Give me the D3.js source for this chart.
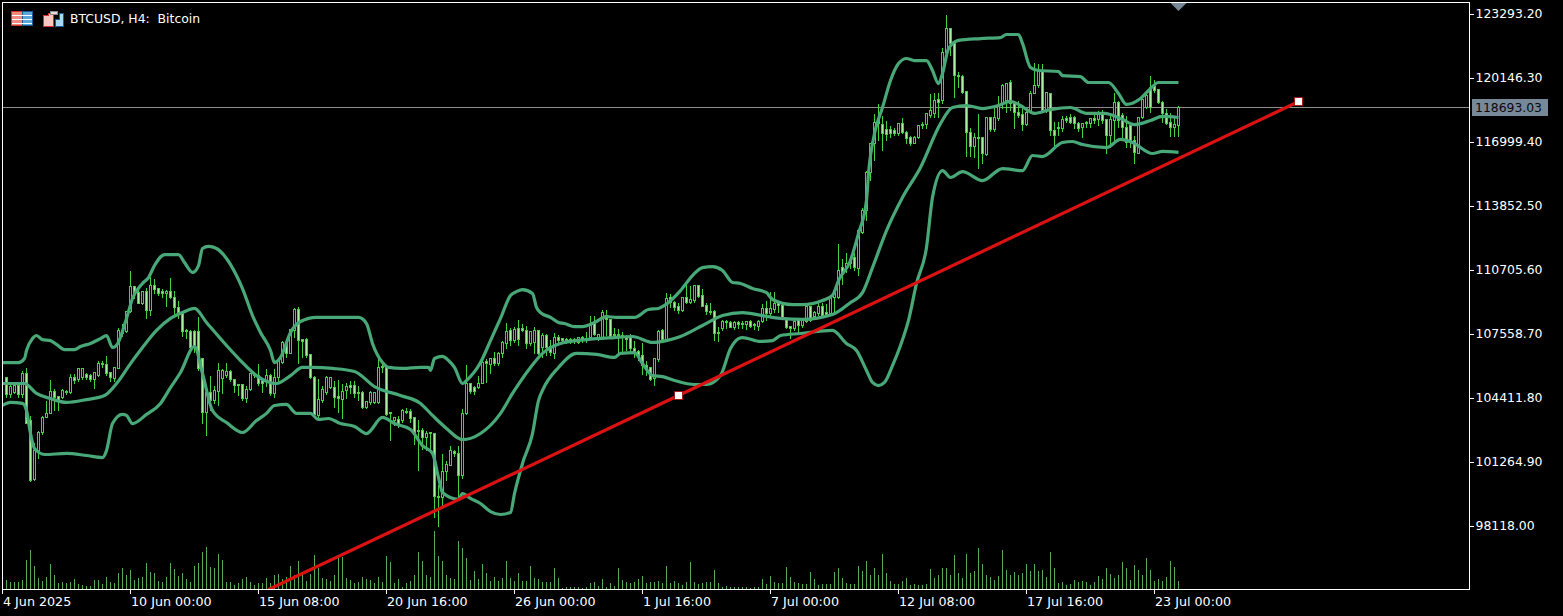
<!DOCTYPE html>
<html><head><meta charset="utf-8">
<script src="https://cdn.jsdelivr.net/npm/d3@7/dist/d3.min.js"></script>
<style>
html,body{margin:0;padding:0;background:#000;overflow:hidden}
svg{display:block}
text{font-family:"DejaVu Sans",sans-serif;font-size:12.4px;fill:#fff}
</style></head><body><svg id="c" width="1563" height="616"></svg>
<script>
const title = "BTCUSD, H4:  Bitcoin";
const priceTicks = [123293.20,120146.30,116999.40,113852.50,110705.60,107558.70,104411.80,101264.90,98118.00];
const timeTickBars = [-1,31,63,95,127,159,191,223,255,287];
const timeTickLabels = ["4 Jun 2025","10 Jun 00:00","15 Jun 08:00","20 Jun 16:00","26 Jun 00:00","1 Jul 16:00","7 Jul 00:00","12 Jul 08:00","17 Jul 16:00","23 Jul 00:00"];
const lastPrice = 118693.03;
const open = [
105400,104560,104660,105000,104560,105590,103280,100380,101800,102690,
103430,103630,104710,104460,104410,104710,104660,105400,105300,105400,
105540,105490,105300,105490,106080,106030,105640,105350,105840,107710,
107660,108640,109870,109570,109030,109620,108690,109920,109770,109620,
109530,109620,109330,108840,108590,107710,107660,107660,107660,106330,
103670,104660,104260,104710,105350,105490,105690,105300,105050,105050,
104360,104800,105540,105490,105250,105200,105490,104610,105400,106130,
107120,106580,107710,108740,107260,107260,106530,105400,103530,104260,
104660,104900,104900,104460,104310,104760,105000,105000,104660,104660,
103920,104170,104170,104170,105940,105890,103670,103280,103330,103280,
103720,103720,103430,102790,102790,102450,102690,102640,99540,99500,
100770,101070,101760,101660,100580,103630,105100,104900,104900,105100,
106180,106030,106330,106080,106580,107070,107710,107210,107800,107800,
107710,107070,107120,107710,106870,107460,106920,106580,107360,107310,
107260,107260,107260,107120,107360,107310,107360,108100,107360,107360,
108440,108250,107510,107510,107460,107360,107360,106820,106670,106480,
105980,105890,105350,106280,107710,107260,109330,109080,108890,108690,
109330,109080,109180,109920,109430,108940,108640,108640,107610,107800,
108150,108100,107850,108100,108050,108000,108150,108000,107900,108150,
108790,108540,108740,109030,108940,108250,107900,107800,108250,107950,
108150,108890,108390,108540,108890,108590,108540,109330,109330,110800,
110800,111200,111300,110760,112520,113610,115470,116900,117880,117830,
117590,117590,117540,117390,117880,117440,117200,116900,117200,117830,
117830,118280,118380,119060,119020,121370,122560,121820,120240,120200,
119460,117440,116750,117200,117200,116360,118180,117590,118130,118870,
119020,119900,118870,118430,118330,117830,118430,119360,119750,120490,
118520,119360,117540,117640,117640,118130,118180,118180,117880,117690,
117930,117880,118130,118080,118380,118080,117290,118030,118920,118280,
117690,117790,117050,116410,118180,118670,119650,119700,119560,118920,
118380,117930,117690,117790];
const high = [
105440,105050,105150,105150,105740,105890,103530,102200,102790,103530,
104260,105300,104850,104460,104850,104800,105590,105590,105840,105890,
105640,105590,105640,106230,106230,106480,105640,105890,107850,108050,
108690,110660,109920,109820,109670,109820,110360,110260,109820,109770,
109720,110310,109670,109180,108690,107800,107750,107750,108390,106380,
104760,105490,105000,106130,105840,106130,105790,105350,105050,105100,
105000,105640,105640,106080,105300,105840,105590,105840,106330,107210,
107260,107800,108840,108890,107310,107360,106580,105490,105350,105000,
105490,105440,105250,105300,105100,105150,105250,105250,105000,104760,
104220,104760,104710,106480,106130,105980,103670,103480,103530,103870,
103920,103870,103480,103330,102940,102790,102740,102690,100130,101660,
101310,102050,101850,102050,103870,106030,105150,105000,105490,106330,
106330,106380,106670,106670,107210,108100,107850,107900,108250,108050,
107950,107710,107900,107750,107610,107560,107260,107610,107510,107360,
107360,107360,107360,107410,107460,107660,108440,108440,107560,108740,
108740,108300,107850,107800,107660,107510,107560,107210,106770,107120,
106230,105890,106380,107750,107800,109570,109520,109180,109080,109330,
110160,109920,109970,109970,109770,109080,109080,108740,107900,108250,
108250,108200,108200,108200,108200,108200,108250,108100,108250,109030,
109180,109620,109620,109180,108980,108300,107950,108250,108300,108300,
108940,108940,108690,109080,109080,109030,109430,109770,111980,111250,
111540,111390,111540,112620,113750,115570,116900,118380,118870,118280,
118030,117790,117690,117930,118180,117540,117290,117290,117830,117980,
118380,119360,119410,119410,121620,123240,122600,121870,120440,120290,
119510,117690,117440,118380,117200,118180,118180,118670,119260,119850,
119900,120050,119020,119020,118670,118670,119510,120880,120830,120830,
119460,119410,117980,117980,118280,118280,118380,118280,117980,117930,
118030,118180,118380,118520,118570,118130,118280,119410,119020,118430,
118280,117790,117290,118230,119110,119510,120240,120050,119600,119020,
118620,118430,118180,118770];
const low = [
104410,104410,104610,104410,104410,103130,100280,100330,101410,102590,
103430,103630,103770,103770,104360,104560,104610,105100,105200,105300,
105300,105200,104850,105440,105890,105490,105200,105200,105840,107410,
107610,108590,109280,109030,108980,108300,108440,109520,109430,109330,
108890,109280,108340,108300,107410,107310,106720,106620,105740,103130,
102540,103770,104120,104020,104610,105400,105200,104660,104510,104260,
104170,104760,105400,105000,104660,104950,104510,104410,105150,106080,
106380,106580,107360,106080,106380,106380,105350,103480,103430,104170,
104560,104850,103920,103670,103380,104360,104610,104410,104260,103870,
103870,104070,104120,104120,105640,103530,102300,103030,102940,103180,
103630,103180,102100,100820,101850,101800,101800,98510,98070,99000,
100330,101070,101510,99490,100430,103580,104610,104560,104850,105100,
105150,105590,105980,105980,106380,106820,106970,107120,106970,107660,
106820,106970,106580,106530,106380,106480,106480,106330,107070,107070,
107070,107070,107070,107070,107120,107120,107310,107460,107210,107310,
107460,107360,107310,106580,106620,106720,106620,106380,106230,105540,
105490,105250,105000,106180,107210,107210,108840,108690,108540,108640,
109030,109030,109080,109330,108890,108490,108490,107210,107170,107710,
107800,107850,107750,107800,107800,107750,107850,107750,107710,108100,
108200,108440,108590,108590,108250,107800,107310,107710,107510,107850,
108100,108150,108250,108440,108340,108440,108490,108540,109280,109970,
110560,110750,110660,110410,112480,113120,115080,116060,117050,116560,
117050,117200,117290,117290,117390,116900,116800,116900,117150,117640,
117640,118180,118180,118180,118870,121080,121230,119160,119650,119360,
116260,116260,116210,115670,115920,116310,117490,117490,118030,118620,
118430,118520,117640,118180,117540,117790,118380,119360,119650,118430,
118430,117290,116800,117290,117490,117930,117880,117640,117490,117200,
117690,117690,117880,117790,117880,116410,116700,117050,117690,117150,
116700,116700,115920,116410,118130,118620,118430,119410,118870,117930,
117830,117240,117240,117240];
const close = [
104560,104950,105000,104560,105590,103130,100330,101800,102690,103430,
103630,104710,104410,104260,104760,104660,105400,105250,105840,105840,
105400,105300,105640,106080,106030,105590,105400,105890,107710,107560,
108640,109870,109480,109030,109620,108690,109920,109720,109530,109530,
109620,109330,108840,108590,107660,107660,106870,106870,105840,103670,
104660,104260,104760,105740,105740,105690,105300,105000,105000,104360,
104800,105590,105490,105100,105100,105490,104610,105400,106230,107120,
106580,107750,108740,107210,107170,106480,105400,103580,104310,104800,
105400,105400,104410,104360,104710,104950,104900,104610,104610,103920,
104220,104660,104660,105890,105890,103580,103630,103430,103080,103770,
103670,103380,102690,102740,102450,102640,102640,99540,99500,100770,
101120,101800,101660,100580,103630,105100,104710,104710,105100,106130,
106080,106330,106080,106580,107120,107660,107210,107750,107260,107710,
107070,107660,107710,106580,107460,106870,106620,107360,107210,107210,
107210,107170,107210,107360,107260,107210,107950,107510,107510,108590,
108250,107410,107460,107460,107360,107260,106820,106620,106480,105980,
105840,105300,106330,107660,107260,109280,109080,108840,108690,109330,
109080,109230,109920,109380,108890,108640,108590,107560,107560,108150,
108100,107850,108100,108000,108000,108150,107900,107950,108150,108790,
108540,108790,109030,108940,108340,107850,107800,108150,107950,108200,
108890,108200,108590,108890,108440,108490,109380,109670,110660,110560,
111000,111000,110800,112620,113610,115470,116900,117930,118130,117390,
117340,117390,117390,117880,117440,117150,116900,117200,117790,117790,
118380,118520,119020,118920,121370,122560,121820,120240,120200,119410,
117440,116750,117200,117150,116410,118180,117590,118180,118770,119750,
119850,118870,118430,118280,117830,118430,119360,119750,120490,118520,
119410,117540,117290,117690,118080,118030,117930,117880,117640,117880,
117880,118130,118030,118430,118030,117290,118080,118920,118030,117690,
116950,117050,116460,118180,119060,119260,118670,119510,118920,118380,
117880,117690,117830,118693.03];
const volume = [
9,7,7,7,9,29,39,23,11,8,12,25,14,6,7,6,7,10,5,4,3,3,9,9,5,12,7,6,16,21,
14,19,9,11,12,26,17,16,8,7,12,26,20,13,16,10,7,23,26,37,42,22,21,35,29,7,7,4,6,10,
12,7,4,6,6,11,6,14,15,10,12,23,14,28,16,8,15,34,21,11,10,8,14,31,32,11,9,6,7,12,
10,9,6,12,7,33,27,6,10,
2,6,8,14,37,28,14,12,58,33,28,14,11,10,48,41,31,9,18,10,25,16,8,12,8,11,28,11,8,16,
8,8,23,11,10,7,7,7,21,11,1,2,2,2,2,1,2,6,7,3,10,2,6,3,21,9,7,6,7,10,
13,6,7,7,8,6,23,6,8,6,4,7,27,7,5,6,7,7,19,6,2,3,2,2,2,2,2,1,2,2,
10,5,13,7,6,6,22,12,7,6,
5,5,17,10,4,5,5,5,17,21,11,6,5,5,23,18,28,14,21,14,35,16,8,5,5,8,11,4,5,4,
4,5,20,11,14,21,21,14,34,16,11,35,16,18,41,25,14,12,9,13,39,19,14,17,14,16,25,18,25,18,
19,12,37,21,6,7,4,5,9,7,8,7,4,7,13,10,21,15,11,14,27,21,9,24,19,14,31,19,8,10,
8,12,28,22,8];
const upperBars = [
-1,3,4.5,5,6.5,7.5,9,11,12.5,14.5,17,18.5,21,23.5,25,26.5,27.5,30,31.5,34,
35.5,37,39.5,43,44.5,46.5,48,49,50.5,52.5,55,57.5,59,61.5,63.5,66,67,68.5,71,73.5,
77.5,88,90,91.5,94,95.5,99,103.5,105.5,106,107,109,110.5,112,114,115,118.5,121,123.5,126,
127.5,129,131.5,132.5,133.5,136,138,139.5,142,144,147,150,152.5,157,160.5,163,164.5,168.5,171.5,174,
176.5,179,181.5,183.5,186.5,190,191.5,196.5,199,204,206.5,208,211,213,215,215.5,217,219,221,223,
225,227,230,231.5,233,234,235.5,238,243.5,248.5,250,253,254,256,258,263,264,268.5,270.5,275.5,
278,280,283.5,286,288,293];
const upperBand = [
106130,106130,106330,106720,107310,107460,107260,107210,107020,106770,106770,106920,107070,107310,107460,106870,106970,108300,109280,110020,
110310,110900,111440,111440,111050,110560,110900,111740,111840,111740,111250,110410,109770,108440,107610,106720,106130,106380,107610,108150,
108350,108350,108050,107070,106130,105890,105840,105890,105890,105740,106330,106430,106230,105890,105100,105250,106130,107210,108300,109430,
109620,109720,109530,108840,108590,108350,108100,108050,107900,107900,108100,108390,108350,108350,108740,108790,108940,109670,110410,110800,
110850,110660,110070,110020,109770,109570,109230,108980,108980,109180,109430,110160,111150,112480,114100,115430,117390,118670,120000,120830,
121080,120980,120980,120490,119850,120340,121570,121970,122060,122110,122260,122260,121820,120640,120490,120440,120240,120190,119900,119900,
119360,118820,119110,119600,119900,119900];
const middleBars = [
-1,4.5,7.5,11,15,20,24.5,27.5,31,34,37.5,41,44,47,50,55,58.5,62.5,67.5,71,
74,76.5,81.5,87,92,98.5,103.5,106.5,110,114,118.5,123.5,126.5,131,134,138.5,145,152,156.5,161.5,
165,168.5,174,179,184,189,193.5,199,206.5,211,214,216.5,220,224,228.5,233.5,236.5,240,244,248,
251,253.5,257,261,266,270,274.5,278.5,282,286,289,293];
const middleBand = [
105100,105100,104610,104360,104170,104310,104510,105100,106080,106870,107710,108300,108590,108790,108100,106970,106230,105490,105100,105490,
105890,105890,105840,105690,104950,104510,104120,103530,102890,102340,102640,103630,104610,105890,106580,107070,107260,107360,107410,107120,
107210,107410,107950,108440,108590,108440,108300,108250,108490,109080,109570,110800,112620,114250,115720,117880,118670,118770,118620,118770,
118970,118770,118380,118570,118670,118380,118380,118130,117830,118030,118230,118180];
const lowerBars = [
-1,1,4,5,6,7,9.5,15,20,24,25,26.5,29,30,31.5,35,38.5,41,43.5,47,
49,51.5,55,59,62.5,65,67,70,72.5,76,78,80.5,83.5,87,90,94,97,101,104,106.5,
108,109,113,114,116,118.5,121,123.5,126,127,129,131.5,133,134,138,142.5,147.5,152,153.5,157,
159,161.5,164,167,172,175,178.5,181,183,184,188.5,191.5,193.5,198.5,206.5,210,212.5,215,216.5,218,
219.5,221.5,223.5,225.5,227.5,230,231.5,234,236,239,244,249,254,256.5,259,264,266.5,269,275,278.5,
281.5,286.5,289,293];
const lowerBand = [
104020,104170,104120,103770,102640,101900,101610,101660,101560,101460,101800,103130,103580,103530,103130,103580,104120,104900,105640,106920,
105590,103770,103180,102690,103280,103630,104020,104070,103630,103630,103330,103380,103130,102990,102640,103430,103130,102840,102050,101660,
100480,99740,99400,99690,99450,99200,98800,98660,98760,99690,101170,102640,104260,104760,105890,106580,106530,106380,106580,106620,
106080,105490,105440,105250,105050,105050,105490,106820,107310,107360,107170,107210,107460,107560,107710,107070,106720,105740,105150,105000,
105150,105980,106970,108200,110020,111790,114250,115570,115230,115520,115080,115670,115570,116310,116260,116950,117000,116850,116700,117100,
116950,116410,116510,116460];
const trendBars = [65.4,168,323];
const trendPrices = [94960,104510,118960];
const anchorIndex = [1,2];

const W=1563,H=616,L=2.5,T=2.5,R=1469.5,B=589.5;
const svg=d3.select("#c");
svg.append("rect").attr("width",W).attr("height",H).attr("fill","#000");
const x=d3.scaleLinear().domain([0,293]).range([6.5,1178.5]);
const y=d3.scaleLinear().domain([98118,123293.2]).range([525.5,13.5]);
const v=d3.scaleLinear().domain([0,58]).range([589,531]);
svg.append("clipPath").attr("id","plot").append("rect").attr("x",L).attr("y",T).attr("width",R-L).attr("height",B-T);
const plot=svg.append("g").attr("clip-path","url(#plot)");
const bars=d3.range(open.length);
const snap=px=>Math.round(px-0.5)+0.5;

// current price line
plot.append("line").attr("x1",L).attr("x2",R).attr("y1",snap(y(lastPrice))).attr("y2",snap(y(lastPrice)))
  .attr("stroke","#8a8f8a").attr("shape-rendering","crispEdges");

// volume
plot.append("g").selectAll("line").data(bars).join("line")
  .attr("x1",i=>snap(x(i))).attr("x2",i=>snap(x(i))).attr("y1",v(0)).attr("y2",i=>v(volume[i]))
  .attr("stroke","#58a858").attr("shape-rendering","crispEdges");

// candles
const cg=plot.append("g").attr("shape-rendering","crispEdges");
const candle=cg.selectAll("g").data(bars).join("g");
candle.append("line")
  .attr("x1",i=>snap(x(i))).attr("x2",i=>snap(x(i)))
  .attr("y1",i=>snap(y(high[i]))).attr("y2",i=>snap(y(low[i]))+0.5)
  .attr("stroke","#42d242");
candle.append("rect")
  .attr("x",i=>snap(x(i))-1).attr("width",2)
  .attr("y",i=>snap(y(Math.max(open[i],close[i]))))
  .attr("height",i=>Math.max(1,snap(y(Math.min(open[i],close[i])))-snap(y(Math.max(open[i],close[i])))))
  .attr("fill",i=>close[i]<open[i]?"#a8f0a0":"#000").attr("stroke","#42d242");

// Bollinger bands
const line=d3.line().x(d=>x(d[0])).y(d=>y(d[1]));
const band=d3.line().x(d=>x(d[0])).y(d=>y(d[1])).curve(d3.curveMonotoneX);
[[upperBars,upperBand],[middleBars,middleBand],[lowerBars,lowerBand]].forEach(([bs,vals])=>{
  plot.append("path").attr("d",band(d3.zip(bs,vals))).attr("fill","none")
    .attr("stroke","#48a878").attr("stroke-width",3.2).attr("stroke-linejoin","round");
});

// trend line
const trend=d3.zip(trendBars,trendPrices);
plot.append("path").attr("d",line(trend)).attr("fill","none").attr("stroke","#dc1212").attr("stroke-width",3.2);
plot.selectAll("rect.anchor").data(anchorIndex).join("rect").attr("class","anchor")
  .attr("x",k=>Math.round(x(trendBars[k]))-5+0.5).attr("y",k=>Math.round(y(trendPrices[k]))-5+0.5)
  .attr("width",8).attr("height",8).attr("fill","#fff").attr("stroke","#a01818").attr("shape-rendering","crispEdges");

// last bar marker
svg.append("path").attr("d",d3.line()([[x(293)-8,3],[x(293)+8,3],[x(293),11]])+"Z").attr("fill","#778899");

// frame
svg.append("rect").attr("x",L).attr("y",T).attr("width",R-L).attr("height",B-T)
  .attr("fill","none").attr("stroke","#fff").attr("shape-rendering","crispEdges");

// price axis
const ax=d3.axisRight(y).tickValues(priceTicks).tickSize(4).tickPadding(2).tickFormat(d3.format(".2f"));
const gy=svg.append("g").attr("transform",`translate(${R},0)`).call(ax);
gy.select(".domain").remove();
gy.selectAll("line").attr("stroke","#fff").attr("shape-rendering","crispEdges");
gy.selectAll("text").attr("fill","#fff").style("font-family",'"DejaVu Sans",sans-serif').style("font-size","12.4px");

// time axis
const gx=svg.append("g");
gx.selectAll("line").data(timeTickBars).join("line")
  .attr("x1",i=>i<0?L:snap(x(i))).attr("x2",i=>i<0?L:snap(x(i))).attr("y1",B).attr("y2",B+4)
  .attr("stroke","#fff").attr("shape-rendering","crispEdges");
gx.selectAll("text").data(timeTickBars).join("text")
  .attr("x",i=>(i<0?L:snap(x(i)))+0.5).attr("y",606).style("font-size","12.7px").text((d,k)=>timeTickLabels[k]);

// price tag
svg.append("rect").attr("x",1472).attr("y",99).attr("width",76).attr("height",17).attr("fill","#778899");
svg.append("text").attr("x",1475).attr("y",112).style("fill","#0a0a0a").text(d3.format(".2f")(lastPrice));

// header icons
function icon1(g){
  g.append("rect").attr("x",11.5).attr("y",11.5).attr("width",10.5).attr("height",14).attr("fill","#f08a7c").attr("stroke","#d03030");
  g.append("rect").attr("x",22).attr("y",11.5).attr("width",10.5).attr("height",14).attr("fill","#58a8dc").attr("stroke","#1a5a96");
  [15,19,23].forEach(s=>g.append("line").attr("x1",12).attr("x2",32).attr("y1",s+.5).attr("y2",s+.5).attr("stroke","#fff"));
}
function icon2(g){
  g.append("path").attr("d","M43.5 15.5H48.5V13.5H53V19H53.5V26.5H43.5Z").attr("fill","#f8c8c0").attr("stroke","#d03030");
  g.append("path").attr("d","M55.5 19.5H59V13.5H63.5V26.5H55.5Z").attr("fill","#a8d8f4").attr("stroke","#1a5a96");
  g.append("rect").attr("x",50.5).attr("y",11.5).attr("width",7).attr("height",3).attr("fill","#ddd").attr("stroke","#888");
}
const ig=svg.append("g").attr("shape-rendering","crispEdges");
icon1(ig);icon2(ig);
svg.append("text").attr("x",70).attr("y",23).style("white-space","pre").text(title);
</script></body></html>
